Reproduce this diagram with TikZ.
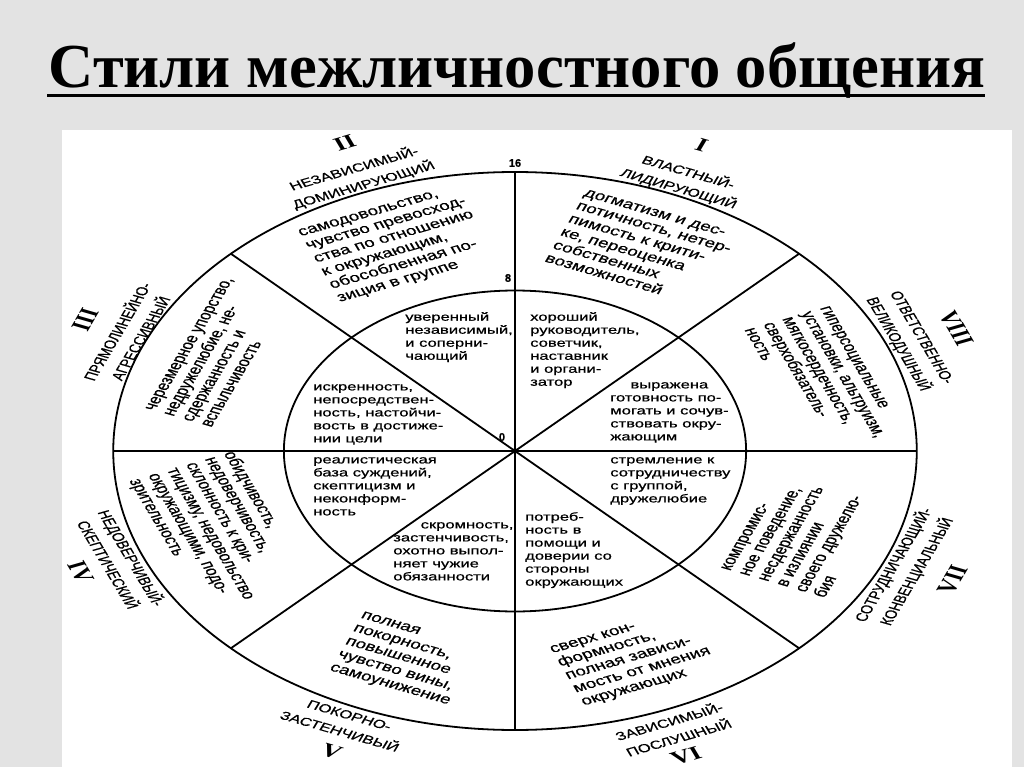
\documentclass[tikz,border=0pt]{standalone}
\usepackage{fontspec}
\setmainfont{Liberation Serif}
\newfontfamily\lsans[FakeBold=0.6]{Liberation Sans}
\newfontfamily\lserif{Liberation Serif}
\definecolor{bgGray}{rgb}{0.89,0.89,0.89}
\begin{document}
\begin{tikzpicture}[x=1pt,y=1pt,
  inbox/.style={font=\lsans\fontsize{11.5}{13}\selectfont, inner sep=0pt, align=left, anchor=north west},
  ringbox/.style={font=\lsans\fontsize{13.2}{14.2}\selectfont, inner sep=0pt, align=left},
  caps/.style={font=\lsans\fontsize{11.6}{17.5}\selectfont, inner sep=0pt, align=center},
  roman/.style={font=\lserif\bfseries\fontsize{19}{19}\selectfont, inner sep=0pt},
  num/.style={font=\lsans\bfseries\fontsize{11}{11}\selectfont, inner sep=0pt},
  wheel/.style={line width=1.8pt, black}
]
\useasboundingbox (0,0) rectangle (1024,-767);
\fill[bgGray] (0,0) rectangle (1024,-767);
\fill[white] (62,-130) rectangle (1012,-767);
% title
\node[font=\lserif\bfseries\fontsize{62.6}{62}\selectfont, anchor=base, inner sep=0pt] (title) at (517,-88) {Стили межличностного общения};
\coordinate (ulL) at (47,-96);
\coordinate (ulR) at (985,-96);
\draw[line width=3pt] (ulL) -- (ulR);
% scale numbers
\node[num] (n16) at (515,-163) {16};
\node[num] (n8) at (508,-278) {8};
\node[num] (n0) at (502,-437) {0};
% the wheel: a circle stretched horizontally
\begin{scope}[shift={(515,-451)}, xscale=1.44, every node/.append style={transform shape}]
\coordinate (C) at (0,0);
\draw[wheel] (C) circle [radius=279];
\draw[wheel] (C) circle [radius=160.5];
\foreach \a in {0,45,...,315} {\coordinate (p\a) at (\a:279);}
\draw[wheel] (p0) -- (p180);
\draw[wheel] (p90) -- (p270);
\draw[wheel] (p45) -- (p225);
\draw[wheel] (p135) -- (p315);
\fill (C) circle (2.6);
% inner texts
\node[inbox] (i2) at (-76.4,139) {уверенный\\независимый,\\и соперни-\\чающий};
\node[inbox] (i1) at (10.4,139) {хороший\\руководитель,\\советчик,\\наставник\\и органи-\\затор};
\node[inbox] (i8) at (66,69) {\hspace*{14pt}выражена\\готовность по-\\могать и сочув-\\ствовать окру-\\жающим};
\node[inbox] (i3) at (-140.3,67) {искренность,\\непосредствен-\\ность, настойчи-\\вость в достиже-\\нии цели};
\node[inbox] (i4) at (-140.3,-6) {реалистическая\\база суждений,\\скептицизм и\\неконформ-\\ность};
\node[inbox] (i5) at (-84.7,-71) {\hspace*{19pt}скромность,\\застенчивость,\\охотно выпол-\\няет чужие\\обязанности};
\node[inbox] (i6) at (6.9,-61) {потреб-\\ность в\\помощи и\\доверии со\\стороны\\окружающих};
\node[inbox] (i7) at (66,-6) {стремление к\\сотрудничеству\\с группой,\\дружелюбие};
% ring texts
\node[ringbox, rotate=22.5] (r2) at (111.4:222) {самодовольство,\\чувство превосход-\\ства по отношению\\к окружающим,\\обособленная по-\\зиция в группе};
\node[ringbox, rotate=-22.5] (r1) at (66.6:222) {догматизм и дес-\\потичность, нетер-\\пимость к крити-\\ке, переоценка\\собственных\\возможностей};
\node[ringbox, rotate=67.5] (r3) at (154.4:229) {черезмерное упорство,\\недружелюбие, не-\\сдержанность и\\вспыльчивость};
\node[ringbox, rotate=-67.5] (r8) at (18.3:226) {гиперсоциальные\\установки, альтруизм,\\мягкосердечность,\\сверхобязатель-\\ность};
\node[ringbox, rotate=-67.5] (r4) at (201.3:220) {обидчивость,\\недоверчивость,\\склонность к кри-\\тицизму, недовольство\\окружающими, подо-\\зрительность};
\node[ringbox, rotate=67.5] (r7) at (336.9:216) {компромис-\\ное поведение,\\несдержанность\\в излиянии\\своего дружелю-\\бия};
\node[ringbox, rotate=-22.5] (r5) at (249.9:221.5) {полная\\покорность,\\повышенное\\чувство вины,\\самоунижение};
\node[ringbox, rotate=22.5] (r6) at (291.9:223) {сверх кон-\\формность,\\полная зависи-\\мость от мнения\\окружающих};
% outer labels
\node[caps, rotate=22.5] (c2) at (111.6:295) {НЕЗАВИСИМЫЙ-\\ДОМИНИРУЮЩИЙ};
\node[caps, rotate=-22.5] (c1) at (66.6:295) {ВЛАСТНЫЙ-\\ЛИДИРУЮЩИЙ};
\node[caps, rotate=67.5] (c3) at (156.6:293) {ПРЯМОЛИНЕЙНО-\\АГРЕССИВНЫЙ};
\node[caps, rotate=-67.5] (c8) at (21.9:295) {ОТВЕТСТВЕННО-\\ВЕЛИКОДУШНЫЙ};
\node[caps, rotate=-67.5] (c4) at (201.9:295) {НЕДОВЕРЧИВЫЙ-\\СКЕПТИЧЕСКИЙ};
\node[caps, rotate=67.5] (c7) at (336.6:295) {СОТРУДНИЧАЮЩИЙ-\\КОНВЕНЦИАЛЬНЫЙ};
\node[caps, rotate=-22.5] (c5) at (246.5:297) {ПОКОРНО-\\ЗАСТЕНЧИВЫЙ};
\node[caps, rotate=22.5] (c6) at (291.6:299) {ЗАВИСИМЫЙ-\\ПОСЛУШНЫЙ};
% roman numerals
\node[roman, rotate=22.5] (R2) at (111:330) {II};
\node[roman, rotate=-22.5] (R1) at (67:332) {I};
\node[roman, rotate=67.5] (R3) at (156.3:326) {III};
\node[roman, rotate=-67.5] (R8) at (21.8:330) {VIII};
\node[roman, rotate=-67.5] (R4) at (201.8:325) {IV};
\node[roman, rotate=67.5] (R7) at (337:330) {VII};
\node[roman, rotate=-22.5] (R5) at (247:326) {V};
\node[roman, rotate=22.5] (R6) at (291.3:327) {VI};
\end{scope}
\end{tikzpicture}
\end{document}
